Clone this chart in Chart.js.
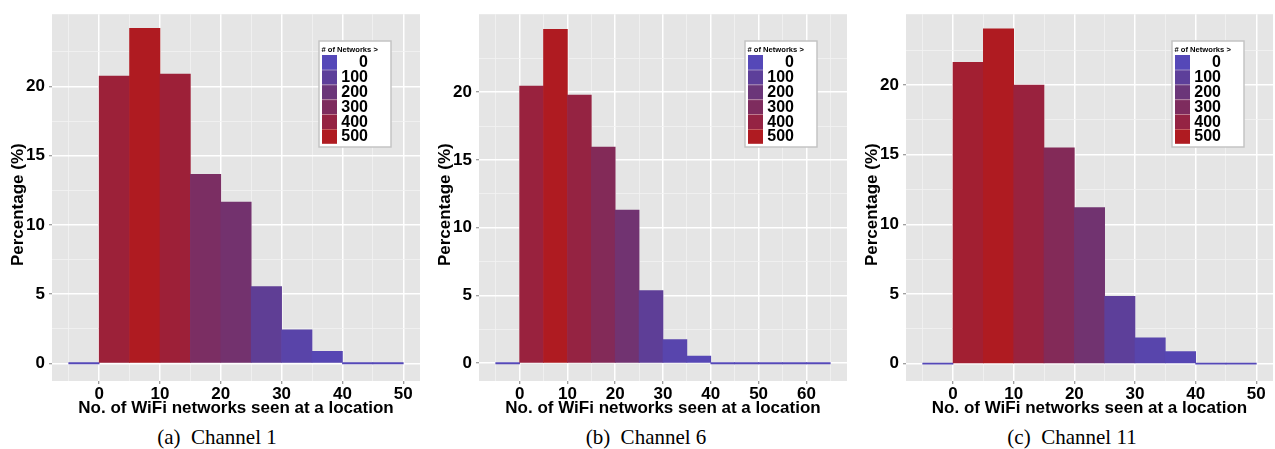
<!DOCTYPE html>
<html>
<head>
<meta charset="utf-8">
<script src="https://cdn.jsdelivr.net/npm/chart.js@4.4.1/dist/chart.umd.min.js"></script>
<style>
body { margin: 0; background: #fff; width: 1275px; height: 449px; overflow: hidden; position: relative; }
canvas { position: absolute; top: 0; }
.caption {
    position: absolute; top: 427px; line-height: 21px;
    font-family: "Liberation Serif", "Times New Roman", serif; font-size: 21px;
    white-space: pre; transform: translateX(-50%); color: #000;
}
</style>
</head>
<body>
<canvas id="ch1" width="425" height="420" style="left:0px"></canvas>
<canvas id="ch6" width="425" height="420" style="left:425px"></canvas>
<canvas id="ch11" width="425" height="420" style="left:850px"></canvas>
<div class="caption" style="left:217px">(a)  Channel 1</div>
<div class="caption" style="left:646px">(b)  Channel 6</div>
<div class="caption" style="left:1072px">(c)  Channel 11</div>

<script>
// ---------------- DATA ----------------

// lower edge of each 5-wide histogram bin
const bins50 = [-5, 0, 5, 10, 15, 20, 25, 30, 35, 40, 45];
const bins65 = [-5, 0, 5, 10, 15, 20, 25, 30, 35, 40, 45, 50, 55, 60];

const channel1Pct  = [0, 20.75, 24.2, 20.9, 13.65, 11.65, 5.55, 2.42, 0.87, 0, 0];
const channel6Pct  = [0, 20.45, 24.65, 19.8, 15.95, 11.3, 5.37, 1.74, 0.52, 0, 0, 0, 0, 0];
const channel11Pct = [0, 21.65, 24.05, 20.0, 15.5, 11.2, 4.83, 1.86, 0.87, 0, 0];

const xTicks50 = [-5, 0, 5, 10, 15, 20, 25, 30, 35, 40, 45, 50];
const xTicks65 = [-5, 0, 5, 10, 15, 20, 25, 30, 35, 40, 45, 50, 55, 60, 65];
const yTicks = [0, 2.5, 5, 7.5, 10, 12.5, 15, 17.5, 20, 22.5];

const legendBreaks = [0, 100, 200, 300, 400, 500];
const legendColors = ["#5548b8", "#5d3f9a", "#6b3679", "#7e2c5e", "#952343", "#af1b21"];

const xTitle = "No. of WiFi networks seen at a location";
const yTitle = "Percentage (%)";


// ---------------- HELPERS ----------------

function hexToRgb(h) {
    return [1, 3, 5].map(i => parseInt(h.slice(i, i + 2), 16));
}

// colour for a count, piecewise between the legend colours
function fillFor(count) {
    const last = legendBreaks.length - 1;
    if (count >= legendBreaks[last]) return legendColors[last];
    let i = 0;
    while (count > legendBreaks[i + 1]) i++;
    const t = (count - legendBreaks[i]) / (legendBreaks[i + 1] - legendBreaks[i]);
    const a = hexToRgb(legendColors[i]);
    const b = hexToRgb(legendColors[i + 1]);
    const c = a.map((v, k) => Math.round(v + (b[k] - v) * t));
    return "rgb(" + c.join(",") + ")";
}

const bgPlugin = {
    id: "panelBg",
    beforeDraw(chart) {
        const {ctx, chartArea: a} = chart;
        ctx.save();
        ctx.fillStyle = "#e5e5e5";
        ctx.fillRect(a.left, a.top, a.right - a.left, a.bottom - a.top);
        ctx.restore();
    }
};

const legendPlugin = {
    id: "netLegend",
    afterDraw(chart, args, opts) {
        const ctx = chart.ctx;
        const left = opts.left, top = 41, w = 72, h = 106;
        ctx.save();
        ctx.fillStyle = "#fff";
        ctx.fillRect(left, top, w, h);
        ctx.strokeStyle = "#c4c4c4";
        ctx.lineWidth = 1.5;
        ctx.strokeRect(left, top, w, h);

        ctx.fillStyle = "#000";
        ctx.font = "bold 7.6px 'Liberation Sans', Arial, sans-serif";
        ctx.textAlign = "left";
        ctx.textBaseline = "middle";
        ctx.fillText("# of Networks >", left + 2.5, top + 8.5);

        const sh = 14.8;
        ctx.font = "bold 16px 'Liberation Sans', Arial, sans-serif";
        ctx.textAlign = "right";
        legendBreaks.forEach((b, i) => {
            const y = top + 14 + i * sh;
            ctx.fillStyle = legendColors[i];
            ctx.fillRect(left + 3, y, 15, sh);
            if (i > 0) {
                ctx.fillStyle = "rgba(255,255,255,0.35)";
                ctx.fillRect(left + 3, y, 15, 0.8);
            }
            ctx.fillStyle = "#000";
            ctx.fillText(String(b), left + 49, y + sh / 2 + 0.5);
        });
        ctx.restore();
    }
};


// ---------------- CHARTS ----------------

Chart.defaults.font.family = "'Liberation Sans', Arial, Helvetica, sans-serif";

function makeChart(p) {
    const maxV = Math.max(...p.values);
    const points = p.bins.map((b, i) => ({x: b + 2.5, y: p.values[i]}));
    const colors = p.values.map(v => fillFor(v / maxV * 500));

    return new Chart(document.getElementById(p.id), {
        type: "bar",
        data: {
            datasets: [{
                data: points,
                backgroundColor: colors,
                borderWidth: 0,
                barPercentage: 1,
                categoryPercentage: 1,
                minBarLength: 1.2
            }]
        },
        options: {
            responsive: false,
            animation: false,
            layout: {padding: {top: 8, right: p.padRight, left: 0, bottom: 0}},
            plugins: {
                legend: {display: false},
                tooltip: {enabled: false},
                netLegend: {left: p.legendLeft}
            },
            scales: {
                x: {
                    type: "linear",
                    min: p.xMin,
                    max: p.xMax,
                    offset: false,
                    afterBuildTicks: s => { s.ticks = p.xTicks.map(v => ({value: v})); },
                    afterFit: s => { s.height = 39; },
                    border: {display: false},
                    grid: {
                        offset: false,
                        color: c => (c.tick && c.tick.value % 10 === 0) ? "#ffffff" : "#f2f2f2",
                        lineWidth: c => (c.tick && c.tick.value % 10 === 0) ? 1.5 : 0.8,
                        tickLength: 3,
                        tickColor: c => (c.tick && c.tick.value % 10 === 0) ? "#7f7f7f" : "rgba(0,0,0,0)",
                        tickWidth: 1
                    },
                    ticks: {
                        autoSkip: false,
                        maxRotation: 0,
                        padding: 0,
                        color: "#000",
                        font: {size: 17, weight: "bold"},
                        callback: v => (v % 10 === 0) ? String(v) : ""
                    },
                    title: {
                        display: true,
                        text: xTitle,
                        color: "#000",
                        font: {size: 17, weight: "bold"},
                        padding: {top: 0, bottom: 1.3}
                    }
                },
                y: {
                    min: p.yMin,
                    max: p.yMax,
                    afterBuildTicks: s => { s.ticks = yTicks.map(v => ({value: v})); },
                    afterFit: s => { s.width = p.yAxisWidth; },
                    border: {display: false},
                    grid: {
                        color: c => (c.tick && c.tick.value % 5 === 0) ? "#ffffff" : "#f2f2f2",
                        lineWidth: c => (c.tick && c.tick.value % 5 === 0) ? 1.5 : 0.8,
                        tickLength: 3,
                        tickColor: c => (c.tick && c.tick.value % 5 === 0) ? "#7f7f7f" : "rgba(0,0,0,0)",
                        tickWidth: 1
                    },
                    ticks: {
                        autoSkip: false,
                        padding: 4,
                        color: "#000",
                        font: {size: 17, weight: "bold"},
                        callback: v => (v % 5 === 0) ? String(v) : ""
                    },
                    title: {
                        display: true,
                        text: yTitle + "   ",
                        color: "#000",
                        font: {size: 17, weight: "bold"},
                        padding: {top: p.yTitlePad, bottom: 0}
                    }
                }
            }
        },
        plugins: [bgPlugin, legendPlugin]
    });
}

makeChart({id: "ch1", bins: bins50, values: channel1Pct, xTicks: xTicks50,
    xMin: -7.75, xMax: 52.75, yMin: -1.28, yMax: 25.23,
    yAxisWidth: 52, padRight: 5, yTitlePad: 8, legendLeft: 319});

makeChart({id: "ch6", bins: bins65, values: channel6Pct, xTicks: xTicks65,
    xMin: -8.5, xMax: 68.5, yMin: -1.31, yMax: 25.76,
    yAxisWidth: 54, padRight: 3, yTitlePad: 10.6, legendLeft: 320});

makeChart({id: "ch11", bins: bins50, values: channel11Pct, xTicks: xTicks50,
    xMin: -7.75, xMax: 52.75, yMin: -1.25, yMax: 25.1,
    yAxisWidth: 56, padRight: 2, yTitlePad: 12.3, legendLeft: 322});
</script>
</body>
</html>
